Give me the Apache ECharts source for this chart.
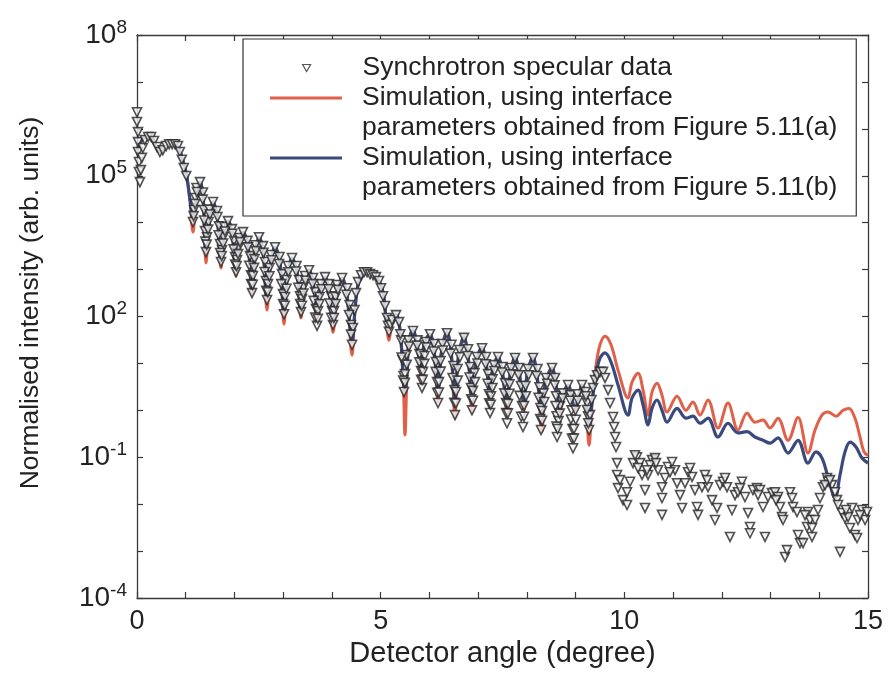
<!DOCTYPE html>
<html>
<head>
<meta charset="utf-8">
<script src="https://cdn.jsdelivr.net/npm/echarts@6/dist/echarts.min.js"></script>
<style>html,body{margin:0;padding:0;background:#fff}#chart{width:888px;height:696px}</style>
</head>
<body>
<div id="chart"></div>
<script>
const seriesNames = [
  'Synchrotron specular data',
  'Simulation, using interface\nparameters obtained from Figure 5.11(a)',
  'Simulation, using interface\nparameters obtained from Figure 5.11(b)'
];
const xLabelValues = [0, 5, 10, 15];
const xTickValues = [0,1,2,3,4,5,6,7,8,9,10,11,12,13,14,15];
const yLabelValues = [1e-4, 1e-1, 1e2, 1e5, 1e8];
const yTickValues = [1e-4,1e-3,1e-2,1e-1,1e0,1e1,1e2,1e3,1e4,1e5,1e6,1e7,1e8];

// Simulation (a) - red
const simulationA = [
[0,3.5e5],[0.103,5.8e5],[0.226,7.0e5],[0.328,6.1e5],[0.472,3.2e5],[0.575,4.1e5],[0.677,4.7e5],[0.800,4.5e5],[0.862,3.9e5],[0.923,2.4e5],[1.006,1.2e5],[1.088,3.0e4],
[1.149,6.3e3],[1.211,3.0e4],[1.293,7.3e4],[1.354,3.9e4],[1.416,1.38e3],[1.477,8.8e3],[1.560,2.75e4],[1.642,1.45e4],[1.724,1.08e3],[1.785,6.3e3],[1.867,1.08e4],[1.949,6.3e3],
[2.031,7.3e2],[2.093,3.3e3],[2.175,6.3e3],[2.278,3.3e3],[2.360,2.86e2],[2.421,2.04e3],[2.504,4.9e3],[2.585,2.6e3],[2.668,1.37e2],[2.730,1.08e3],[2.832,3.0e3],[2.934,1.45e3],
[3.017,69],[3.078,6.0e2],[3.181,1.76e3],[3.283,8.8e2],[3.365,93],[3.427,3.66e2],[3.530,9.7e2],[3.612,5.4e2],[3.694,84],[3.755,3.3e2],[3.858,6.9e2],[3.940,3.66e2],
[4.022,46],[4.104,2.86e2],[4.207,6.6e2],[4.309,2.86e2],[4.412,15],[4.473,1.37e2],[4.535,4.7e2],[4.638,8.4e2],[4.781,8.0e2],[4.925,6.6e2],[5.048,3.3e2],[5.110,93],
[5.171,31],[5.233,76],[5.315,112],[5.397,52],[5.458,7.2],[5.499,0.30],[5.540,5.6],[5.581,31],[5.663,52],[5.745,25],[5.828,5.6],[5.889,25],[6.012,42],[6.094,19],
[6.177,1.5],[6.238,15],[6.361,47],[6.443,19],[6.525,0.68],[6.587,11.8],[6.710,37],[6.792,15],[6.874,0.92],[6.936,8.0],[7.080,22],[7.162,10.7],[7.244,1.3],[7.305,6.6],
[7.408,14.4],[7.490,7.2],[7.593,0.92],[7.654,5.6],[7.757,13.7],[7.839,6.6],[7.942,1.0],[8.003,5.6],[8.126,13.7],[8.208,5.6],[8.311,0.35],[8.372,3.46],[8.516,8.0],
[8.598,3.46],[8.680,0.92],[8.762,2.45],[8.845,3.46],[8.988,1.0],[9.132,3.46],[9.214,1.3],[9.276,0.18],[9.337,1.3],[9.420,9.2],[9.501,25],[9.604,38],[9.727,25],[9.871,7.2],
[10.076,1.83],[10.158,4.0],[10.281,6.2],[10.384,2.7],[10.486,0.79],[10.568,2.45],[10.671,3.8],[10.773,2.1],[10.876,0.92],[11.081,2.0],[11.266,1.0],[11.409,1.5],
[11.553,0.79],[11.717,1.66],[11.922,0.42],[12.127,1.43],[12.333,0.38],[12.517,0.88],[12.681,0.56],[12.846,0.62],[12.990,0.42],[13.154,0.68],[13.359,0.23],[13.564,0.70],
[13.769,0.123],[13.913,0.38],[14.056,0.79],[14.179,0.92],[14.344,0.75],[14.487,1.0],[14.610,1.1],[14.733,0.68],[14.836,0.27],[14.918,0.13],[15,0.11]
];

// Simulation (b) - blue
const simulationB = [
[0,3.5e5],[0.103,5.8e5],[0.226,7.0e5],[0.328,6.1e5],[0.472,3.2e5],[0.575,4.1e5],[0.677,4.7e5],[0.800,4.5e5],[0.862,3.9e5],[0.923,2.4e5],[1.006,1.2e5],[1.088,3.0e4],
[1.149,1.14e4],[1.211,3.0e4],[1.293,7.3e4],[1.354,3.9e4],[1.416,2.36e3],[1.477,8.8e3],[1.560,2.75e4],[1.642,1.45e4],[1.724,1.45e3],[1.785,6.3e3],[1.867,1.08e4],[1.949,6.3e3],
[2.031,9.7e2],[2.093,3.3e3],[2.175,6.3e3],[2.278,3.3e3],[2.360,3.66e2],[2.421,2.04e3],[2.504,4.9e3],[2.585,2.6e3],[2.668,2.46e2],[2.730,1.08e3],[2.832,3.0e3],[2.934,1.45e3],
[3.017,1.24e2],[3.078,6.0e2],[3.181,1.76e3],[3.283,8.8e2],[3.365,1.37e2],[3.427,3.66e2],[3.530,9.7e2],[3.612,5.4e2],[3.694,1.24e2],[3.755,3.3e2],[3.858,6.9e2],[3.940,3.66e2],
[4.022,76],[4.104,2.86e2],[4.207,6.6e2],[4.309,2.86e2],[4.412,28.6],[4.473,1.37e2],[4.535,4.7e2],[4.638,8.4e2],[4.781,8.0e2],[4.925,6.6e2],[5.048,3.3e2],[5.110,93],
[5.171,52],[5.233,76],[5.315,112],[5.397,52],[5.458,6.0],[5.499,2.45],[5.540,6.0],[5.581,31],[5.663,52],[5.745,25],[5.828,7.2],[5.889,25],[6.012,42],[6.094,19],
[6.177,2.7],[6.238,15],[6.361,47],[6.443,19],[6.525,1.66],[6.587,11.8],[6.710,37],[6.792,15],[6.874,1.66],[6.936,8.0],[7.080,22],[7.162,10.7],[7.244,1.83],[7.305,6.6],
[7.408,14.4],[7.490,7.2],[7.593,1.5],[7.654,5.6],[7.757,13.7],[7.839,6.6],[7.942,1.5],[8.003,5.6],[8.126,13.7],[8.208,5.6],[8.311,0.79],[8.372,3.46],[8.516,8.0],
[8.598,3.46],[8.680,1.1],[8.762,2.45],[8.845,3.46],[8.988,1.1],[9.132,3.46],[9.214,1.5],[9.276,0.42],[9.337,1.5],[9.420,6.0],[9.501,13],[9.604,16.7],[9.727,10.7],[9.871,3.46],
[10.076,0.79],[10.158,1.83],[10.281,2.7],[10.384,1.3],[10.486,0.49],[10.568,1.1],[10.671,1.66],[10.773,1.0],[10.876,0.56],[11.081,1.1],[11.266,0.68],[11.409,0.75],
[11.553,0.53],[11.717,0.68],[11.922,0.27],[12.127,0.53],[12.333,0.33],[12.517,0.35],[12.681,0.27],[12.846,0.23],[12.990,0.20],[13.154,0.26],[13.359,0.123],[13.564,0.23],
[13.769,0.075],[13.933,0.13],[14.056,0.096],[14.179,0.038],[14.323,0.0135],[14.426,0.042],[14.528,0.13],[14.631,0.21],[14.754,0.165],[14.877,0.096],[15,0.075]
];

// Synchrotron specular data - triangles
const synchrotronData = [
[0,2.25e6],[0,1.4e6],[0.02,8.5e5],[0.02,5.2e5],[0.02,3.2e5],[0.04,1.96e5],[0.04,1.2e5],[0.06,7.3e4],[0.08,1.32e5],[0.10,2.4e5],[0.12,3.9e5],[0.16,5.8e5],[0.23,6.7e5],
[0.29,6.7e5],[0.35,5.5e5],[0.41,4.1e5],[0.47,3.2e5],[0.53,3.5e5],[0.60,4.3e5],[0.66,4.7e5],[0.72,4.7e5],[0.78,4.7e5],[0.84,4.3e5],[0.88,3.2e5],[0.92,2.2e5],[0.96,1.46e5],[1.01,9.9e4],
[1.149,1.03e4],[1.170,1.86e4],[1.200,3.35e4],[1.221,5.5e4],[1.293,7.3e4],[1.354,4.4e4],[1.375,1.86e4],[1.395,6.6e3],
[1.416,2.36e3],[1.436,4.9e3],[1.467,1.03e4],[1.488,1.9e4],[1.560,2.75e4],[1.642,1.77e4],[1.683,8.4e3],[1.703,3.5e3],
[1.724,1.45e3],[1.744,2.6e3],[1.775,4.9e3],[1.795,8.1e3],[1.867,1.08e4],[1.949,7.3e3],[1.990,4.1e3],[2.011,1.85e3],
[2.032,8.8e2],[2.052,1.6e3],[2.083,2.9e3],[2.103,4.7e3],[2.175,6.3e3],[2.268,4.1e3],[2.319,1.94e3],[2.339,7.6e2],
[2.360,3.15e2],[2.380,7.3e2],[2.411,1.67e3],[2.432,3.3e3],[2.504,4.9e3],[2.586,3.16e3],[2.627,1.45e3],[2.647,5.7e2],
[2.668,2.24e2],[2.688,4.9e2],[2.719,1.08e3],[2.750,2.04e3],[2.832,3.0e3],[2.924,1.85e3],[2.976,8.0e2],[2.996,3.0e2],
[3.017,1.12e2],[3.037,2.6e2],[3.068,6.0e2],[3.099,1.19e3],[3.181,1.76e3],[3.273,1.19e3],[3.324,6.0e2],[3.345,2.7e2],
[3.365,1.24e2],[3.386,2.35e2],[3.417,4.2e2],[3.448,7.3e2],[3.530,9.7e2],[3.612,6.6e2],[3.653,3.3e2],[3.673,1.44e2],
[3.694,63],[3.714,1.3e2],[3.745,2.6e2],[3.776,4.9e2],[3.858,6.9e2],[3.940,4.9e2],[3.981,2.7e2],[4.002,1.3e2],
[4.022,66],[4.043,1.3e2],[4.073,2.6e2],[4.104,4.7e2],[4.207,6.6e2],[4.309,4.0e2],[4.361,1.75e2],[4.391,66],
[4.412,25],[4.432,57],[4.463,1.37e2],[4.494,3.15e2],[4.535,5.4e2],[4.597,7.6e2],[4.658,8.8e2],[4.720,8.8e2],[4.781,8.0e2],[4.843,7.6e2],[4.904,6.9e2],[4.966,5.7e2],
[5.007,4.0e2],[5.048,2.7e2],[5.089,1.67e2],[5.130,93],[5.151,63],
[5.171,47],[5.202,66],[5.233,84],[5.315,1.07e2],[5.377,76],[5.418,31],[5.448,11.8],[5.469,5.4],
[5.479,2.45],[5.499,5.9],[5.530,15],[5.571,31],[5.663,49],[5.756,31],[5.797,15.8],[5.828,6.9],
[5.848,3.0],[5.869,6.6],[5.900,14.4],[5.930,28.6],[6.012,42],[6.094,26],[6.135,10.7],[6.156,4.0],
[6.177,1.43],[6.197,4.0],[6.228,11.2],[6.269,26],[6.361,44],[6.453,25],[6.494,8.8],[6.515,2.7],
[6.525,0.79],[6.546,2.45],[6.577,7.6],[6.618,19.3],[6.710,35],[6.792,20],[6.833,8.4],[6.853,3.0],
[6.874,1.0],[6.894,2.6],[6.925,6.2],[6.977,13.7],[7.080,21],[7.162,13.7],[7.203,5.9],[7.223,2.2],
[7.244,0.88],[7.264,2.0],[7.295,4.6],[7.326,9.2],[7.408,13.7],[7.500,8.4],[7.552,3.8],[7.572,1.43],
[7.593,0.53],[7.613,1.36],[7.644,3.6],[7.675,8.0],[7.757,13],[7.839,8.0],[7.880,3.3],[7.900,1.24],
[7.921,0.44],[7.942,1.24],[7.972,3.3],[8.024,7.6],[8.126,13],[8.218,7.6],[8.259,3.1],[8.280,1.12],
[8.291,0.38],[8.311,0.97],[8.342,2.3],[8.393,4.9],[8.516,8.0],[8.578,4.9],[8.598,2.0],[8.609,0.75],
[8.619,0.27],[8.650,0.59],[8.680,1.24],[8.742,2.3],[8.845,3.46],[8.896,2.1],[8.917,1.0],[8.937,0.40],
[8.947,0.155],[8.968,0.40],[8.999,1.0],[9.040,2.2],[9.132,3.46],[9.204,2.45],[9.235,1.43],[9.255,0.75],[9.276,0.38],
[9.296,0.79],[9.327,1.66],[9.358,3.0],[9.399,4.4],[9.440,5.6],[9.501,6.6],[9.563,6.6],[9.604,4.9],[9.666,2.7],[9.707,1.43],[9.768,0.72],[9.789,0.44],[9.810,0.27],[9.830,0.165],[9.850,0.075],
[1.163,1.38e4],[1.192,2.5e4],[1.229,4.5e4],[1.348,3.1e4],[1.379,1.11e4],[1.404,3.95e3],
[1.430,3.4e3],[1.459,7.1e3],[1.496,1.49e4],[1.650,1.32e4],[1.674,5.4e3],[1.707,2.25e3],
[1.738,1.95e3],[1.767,3.6e3],[1.804,6.5e3],[1.958,5.8e3],[1.982,2.7e3],[2.015,1.28e3],
[2.046,1.19e3],[2.075,2.14e3],[2.112,3.85e3],[2.276,2.97e3],[2.304,1.21e3],[2.341,4.9e2],
[2.374,4.75e2],[2.403,1.09e3],[2.440,2.48e3],[2.594,2.27e3],[2.619,8.9e2],[2.651,3.55e2],
[2.684,3.3e2],[2.717,7.2e2],[2.758,1.58e3],[2.916,1.32e3],[2.961,4.9e2],[2.998,1.84e2],
[3.033,1.7e2],[3.066,3.9e2],[3.107,8.8e2],[3.265,9.1e2],[3.310,4.1e2],[3.347,1.85e2],
[3.382,1.69e2],[3.415,3.1e2],[3.456,5.8e2],[3.603,4.9e2],[3.624,2.15e2],[3.657,95],
[3.710,89],[3.743,1.84e2],[3.784,3.8e2],[3.932,3.8e2],[3.952,1.89e2],[3.985,94],
[4.040,93],[4.077,1.85e2],[4.123,3.7e2],[4.299,2.9e2],[4.350,1.08e2],[4.391,41],
[5.405,42],[5.430,13.4],[5.462,4.3],
[5.497,3.85],[5.534,9.4],[5.579,23],[5.748,24],[5.793,10.5],[5.830,4.5],
[5.864,4.45],[5.897,9.8],[5.938,22],[6.086,18],[6.127,6.6],[6.160,2.37],
[6.195,2.4],[6.232,6.7],[6.277,18.8],[6.435,16.2],[6.476,4.9],[6.509,1.45],
[6.544,1.4],[6.581,4.3],[6.626,13.5],[6.784,14.4],[6.825,5.0],[6.858,1.72],
[6.895,1.6],[6.936,4.0],[6.987,9.95],[7.153,9.6],[7.194,3.7],[7.227,1.41],
[7.260,1.32],[7.293,3.0],[7.334,6.9],[7.492,6.4],[7.537,2.3],[7.574,0.87],
[7.610,0.86],[7.642,2.25],[7.683,5.85],[7.830,5.6],[7.851,2.03],[7.884,0.73],
[7.941,0.73],[7.982,2.0],[8.034,5.6],[8.200,5.4],[8.241,1.86],[8.274,0.65],
[8.313,0.6],[8.358,1.5],[8.415,3.7],[8.571,3.4],[8.588,1.24],[8.608,0.45],
[8.630,0.4],[8.675,0.85],[8.733,1.8],[8.889,1.6],[8.905,0.64],[8.926,0.25],
[8.966,0.25],[9.003,0.63],[9.048,1.6],[9.212,2.0],[9.233,1.02],[9.262,0.53],
[9.850,4.2e-2],[9.870,2.2e-2],[9.973,1.22e-2],[10.055,1.8e-2],[10.117,3.0e-2],[10.178,7.5e-2],[10.260,0.10],[10.322,7.5e-2],[10.363,4.2e-2],[10.424,2.0e-2],[10.424,8.3e-3],
[10.486,4.2e-2],[10.568,8.7e-2],[10.630,9.6e-2],[10.691,5.3e-2],[10.773,2.3e-2],[10.773,1.35e-2],[10.773,5.9e-3],[10.835,3.6e-2],[10.897,6.2e-2],[10.979,7.9e-2],
[11.040,5.3e-2],[11.081,2.8e-2],[11.143,1.56e-2],[11.184,8.3e-3],[11.245,2.8e-2],[11.307,4.8e-2],[11.389,3.8e-2],[11.450,2.0e-2],[11.491,8.7e-3],[11.512,5.9e-3],
[11.594,2.3e-2],[11.655,4.2e-2],[11.717,2.3e-2],[11.799,1.22e-2],[11.860,4.6e-3],[11.902,8.3e-3],[11.963,2.55e-2],[12.025,3.0e-2],[12.107,2.3e-2],[12.168,2.0e-3],
[12.209,7.5e-3],[12.271,1.56e-2],[12.332,1.8e-2],[12.414,3.0e-2],[12.476,1.42e-2],[12.538,6.5e-3],[12.579,3.25e-3],[12.579,2.4e-3],[12.640,2.0e-2],[12.722,2.2e-2],
[12.784,2.0e-2],[12.845,8.7e-3],[12.886,2.0e-3],[12.948,1.42e-2],[13.030,1.72e-2],[13.092,1.8e-2],[13.153,1.42e-2],[13.194,8.7e-3],[13.235,5.3e-3],[13.256,4.6e-3],
[13.297,7.5e-4],[13.338,1.05e-3],[13.400,1.8e-2],[13.461,8.7e-3],[13.543,6.8e-3],[13.564,2.2e-3],[13.605,1.48e-3],[13.667,1.48e-3],[13.749,3.25e-3],[13.769,6.8e-3],
[13.810,4.6e-3],[13.851,2.0e-3],[13.913,4.6e-3],[13.974,7.5e-3],[14.015,1.35e-2],[14.077,2.3e-2],[14.159,3.6e-2],[14.179,3.0e-2],[14.261,2.55e-2],[14.323,1.8e-2],
[14.364,1.22e-2],[14.385,9.6e-3],[14.426,9.6e-4],[14.467,6.5e-3],[14.529,5.0e-3],[14.590,5.3e-3],[14.631,3.1e-3],[14.672,8.3e-3],[14.734,2.2e-3],[14.775,1.9e-3],
[14.795,4.6e-3],[14.877,7.5e-3],[14.939,4.6e-3],[14.980,6.8e-3],
[10.219,1.1e-1],[10.281,5.9e-2],[10.527,6.8e-2],[10.650,7.5e-2],[10.937,4.8e-2],[11.348,5.9e-2],[11.696,3.25e-2],[12.066,3.6e-2],[12.374,2.2e-2],
[12.743,1.56e-2],[13.112,1.22e-2],[13.441,1.35e-2],[13.708,5.85e-3],[13.851,3.1e-3],[14.118,2.55e-2],[14.220,3.25e-2],[14.548,7.5e-3],[14.836,5.85e-3],
[10.055,9.6e-3],[9.911,3.25e-2],[10.466,5.3e-2]
];

const FONT = "'Liberation Sans', Arial, sans-serif";
const AXIS_COLOR = '#3a3a3a';
const TEXT_COLOR = '#222';
const RED = '#e0604a';
const BLUE = '#3b4a7c';
const LINE_ICON = 'path://M0,13.5 L72,13.5 L72,16.5 L0,16.5 Z M0,0 L0,60';
const TRI_ICON = 'path://M0,0 L8,0 L4,7 Z';

const chart = echarts.init(document.getElementById('chart'), null, {renderer: 'canvas'});

function yLabel(v) {
  const e = Math.round(Math.log10(v));
  return '{b|10}{s|' + e + '}';
}

const boxAxisLine = {show: true, onZero: false, lineStyle: {color: AXIS_COLOR, width: 1.3}};
const legendText = {fontSize: 26.5, lineHeight: 30, fontFamily: FONT, color: TEXT_COLOR};

chart.setOption({
  animation: false,
  backgroundColor: '#fff',
  textStyle: {fontFamily: FONT},
  grid: {left: 137, right: 20, top: 35, bottom: 98},
  legend: [{
    orient: 'vertical',
    left: 243, top: 39,
    align: 'left',
    itemWidth: 72, itemHeight: 60,
    itemGap: 0,
    padding: [44, 19, 13, 27],
    backgroundColor: '#fff',
    borderColor: '#333', borderWidth: 1.2, borderRadius: 0,
    z: 5,
    textStyle: Object.assign({padding: [0, 0, 0, 15]}, legendText),
    data: [
      {name: seriesNames[1], icon: LINE_ICON, itemStyle: {color: RED, borderWidth: 0}},
      {name: seriesNames[2], icon: LINE_ICON, itemStyle: {color: BLUE, borderWidth: 0}}
    ]
  }, {
    orient: 'vertical',
    left: 302, top: 53,
    align: 'left',
    itemWidth: 8, itemHeight: 7,
    padding: 0,
    z: 6,
    textStyle: Object.assign({padding: [0, 0, 0, 47]}, legendText),
    data: [
      {name: seriesNames[0], icon: TRI_ICON, itemStyle: {color: '#fff', borderColor: '#2a2a2a', borderWidth: 1.2}}
    ]
  }],
  xAxis: [{
    type: 'value', min: 0, max: 15, interval: 1, position: 'bottom',
    name: 'Detector angle (degree)', nameLocation: 'middle', nameGap: 41,
    nameTextStyle: {fontSize: 29, color: TEXT_COLOR, fontFamily: FONT},
    axisLine: boxAxisLine,
    axisTick: {show: true, inside: true, length: 6, customValues: xTickValues, lineStyle: {color: AXIS_COLOR, width: 1.2}},
    axisLabel: {show: true, customValues: xLabelValues, fontSize: 27, color: TEXT_COLOR, margin: 10, fontFamily: FONT},
    splitLine: {show: false}
  }, {
    type: 'value', min: 0, max: 15, interval: 1, position: 'top',
    axisLine: boxAxisLine,
    axisTick: {show: true, inside: true, length: 6, customValues: xTickValues, lineStyle: {color: AXIS_COLOR, width: 1.2}},
    axisLabel: {show: false},
    splitLine: {show: false}
  }],
  yAxis: [{
    type: 'log', logBase: 10, min: 1e-4, max: 1e8, position: 'left',
    name: 'Normalised intensity (arb. units)', nameLocation: 'middle', nameGap: 93,
    nameTextStyle: {fontSize: 26.5, color: TEXT_COLOR, fontFamily: FONT, padding: [0, 0, 0, 27]},
    axisLine: boxAxisLine,
    axisTick: {show: true, inside: true, length: 6, customValues: yTickValues, lineStyle: {color: AXIS_COLOR, width: 1.2}},
    axisLabel: {
      show: true, customValues: yLabelValues, margin: 10, formatter: yLabel,
      rich: {
        b: {fontSize: 28, lineHeight: 34, color: TEXT_COLOR, fontFamily: FONT},
        s: {fontSize: 19, lineHeight: 14, verticalAlign: 'top', color: TEXT_COLOR, fontFamily: FONT}
      }
    },
    splitLine: {show: false}
  }, {
    type: 'log', logBase: 10, min: 1e-4, max: 1e8, position: 'right',
    axisLine: boxAxisLine,
    axisTick: {show: true, inside: true, length: 6, customValues: yTickValues, lineStyle: {color: AXIS_COLOR, width: 1.2}},
    axisLabel: {show: false},
    splitLine: {show: false}
  }],
  series: [
    {
      name: seriesNames[1], type: 'line', data: simulationA, smooth: 0.35,
      symbol: 'none', xAxisIndex: 0, yAxisIndex: 0,
      lineStyle: {color: RED, width: 3}, itemStyle: {color: RED}, z: 2
    },
    {
      name: seriesNames[2], type: 'line', data: simulationB, smooth: 0.35,
      symbol: 'none', xAxisIndex: 0, yAxisIndex: 0,
      lineStyle: {color: BLUE, width: 3.2}, itemStyle: {color: BLUE}, z: 3
    },
    {
      name: seriesNames[0], type: 'scatter', data: synchrotronData,
      symbol: 'triangle', symbolRotate: 180, symbolKeepAspect: true, symbolSize: 9,
      xAxisIndex: 0, yAxisIndex: 0,
      itemStyle: {color: '#f4f4f4', borderColor: '#262626', borderWidth: 1.6}, z: 4
    }
  ]
});
</script>
</body>
</html>
